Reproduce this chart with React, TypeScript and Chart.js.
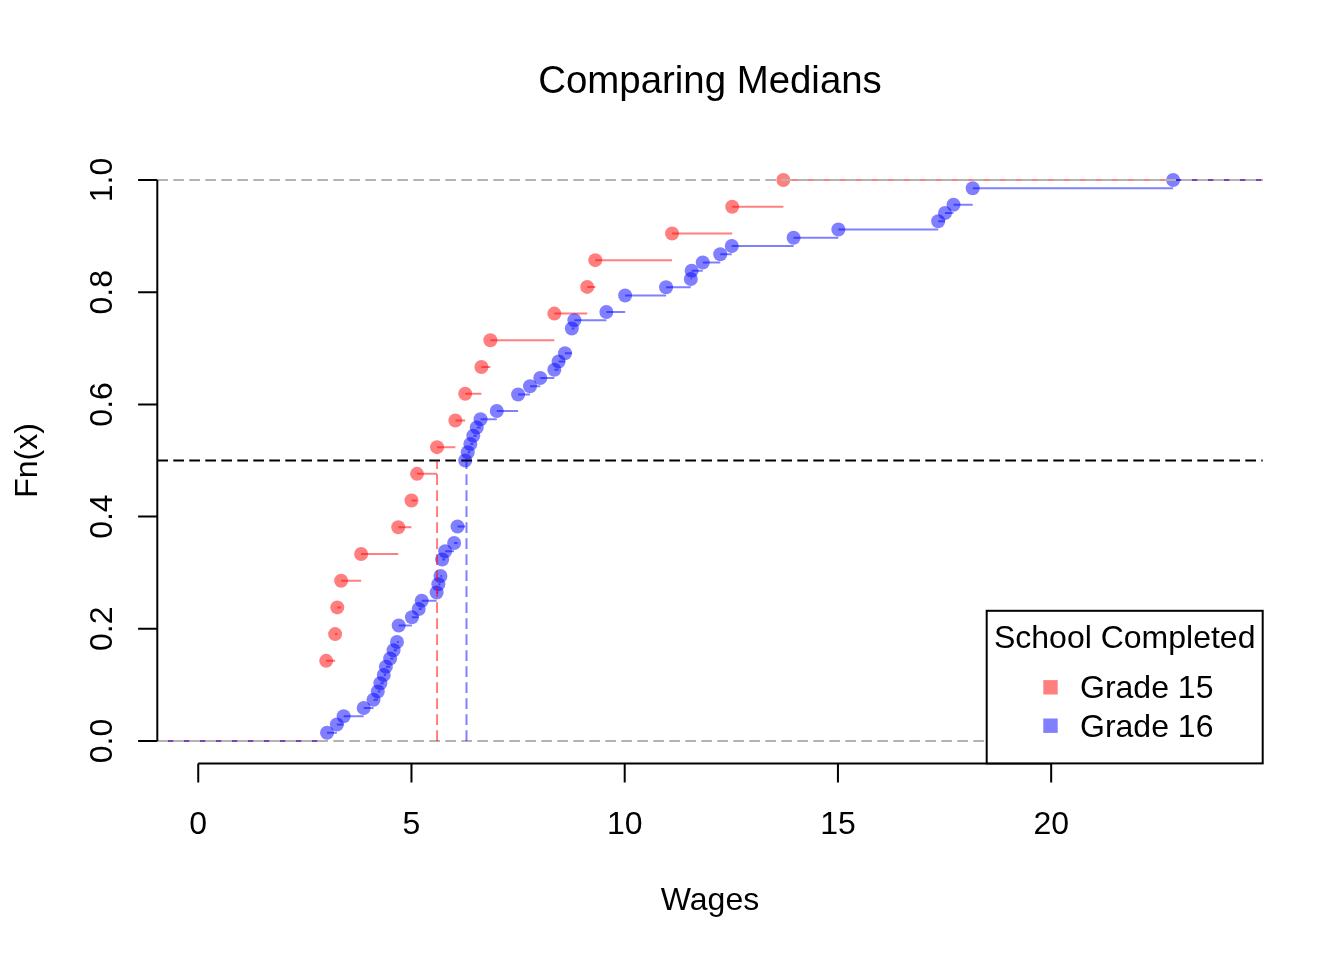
import React, { useEffect, useRef } from "react";
import { Chart, registerables } from "chart.js";

Chart.register(...registerables);

// ---- Text ----
const chartTitle = "Comparing Medians";
const xAxisTitle = "Wages";
const yAxisTitle = "Fn(x)";
const legendTitle = "School Completed";
const seriesNames = ["Grade 15", "Grade 16"];

// ---- Data (hourly wages, ties repeated) ----
const grade15Wages = [
  3.0, 3.0, 3.0, 3.21, 3.26, 3.35, 3.82, 4.69, 5.0, 5.13, 5.6, 6.03, 6.26, 6.64,
  6.85, 8.35, 9.12, 9.31, 11.11, 12.52, 13.72,
];
const grade16Wages = [
  3.02, 3.25, 3.41, 3.88, 4.11, 4.21, 4.27, 4.35, 4.4, 4.5, 4.58, 4.66, 4.7, 4.7,
  5.01, 5.17, 5.24, 5.59, 5.63, 5.68, 5.72, 5.72, 5.79, 6.0, 6.08, 6.08,
  6.26, 6.26, 6.26, 6.26, 6.26, 6.26, 6.26, 6.26, 6.32, 6.38, 6.45, 6.53, 6.62,
  7.0, 7.5, 7.5, 7.78, 8.02, 8.35, 8.45, 8.6, 8.76, 8.76, 8.76, 8.82, 9.57,
  10.01, 10.01, 10.97, 11.55, 11.57, 11.83, 12.24, 12.51, 13.96, 15.01, 17.35,
  17.51, 17.71, 18.16, 18.16, 22.86,
];

// ---- Axes ----
const xLimits = [0, 24];
const yLimits = [0, 1];
const xTicks = [0, 5, 10, 15, 20];
const xTickLabels = ["0", "5", "10", "15", "20"];
const yTicks = [0, 0.2, 0.4, 0.6, 0.8, 1.0];
const yTickLabels = ["0.0", "0.2", "0.4", "0.6", "0.8", "1.0"];
const medianLevel = 0.5;

// ---- Colours ----
const redCol = "rgba(255,0,0,0.5)";
const blueCol = "rgba(0,0,255,0.5)";
const seriesColors = [redCol, blueCol];

const FONT = "'Liberation Sans', Arial, Helvetica, sans-serif";

const ext = (lim: number[]) => {
  const d = (lim[1] - lim[0]) * 0.04;
  return [lim[0] - d, lim[1] + d];
};
const xRange = ext(xLimits);
const yRange = ext(yLimits);

const ecdfKnots = (vals: number[]) => {
  const s = [...vals].sort((a, b) => a - b);
  const n = s.length;
  const out: { x: number; y: number }[] = [];
  s.forEach((v, i) => {
    if (i === n - 1 || s[i + 1] !== v) out.push({ x: v, y: (i + 1) / n });
  });
  return out;
};

const stepSegments = (knots: { x: number; y: number }[], xmin: number, xmax: number) => {
  const pts: { x: number; y: number | null }[] = [];
  let px = xmin;
  let py = 0;
  for (const k of knots) {
    pts.push({ x: px, y: py }, { x: k.x, y: py }, { x: k.x, y: null });
    px = k.x;
    py = k.y;
  }
  pts.push({ x: px, y: py }, { x: xmax, y: py });
  return pts;
};

const median = (vals: number[]) => {
  const s = [...vals].sort((a, b) => a - b);
  const n = s.length;
  return n % 2 ? s[(n - 1) / 2] : (s[n / 2 - 1] + s[n / 2]) / 2;
};

const seriesData = [grade15Wages, grade16Wages];

const overlayPlugin = {
  id: "rOverlay",
  afterDraw(chart: any) {
    const { ctx, chartArea: ca } = chart;
    const xs = chart.scales.x;
    const ys = chart.scales.y;
    const X = (v: number) => xs.getPixelForValue(v);
    const Y = (v: number) => ys.getPixelForValue(v);
    const dash = [10.7, 5.3];
    ctx.save();
    ctx.lineCap = "butt";

    // gray 0/1 lines
    ctx.strokeStyle = "#b3b3b3";
    ctx.lineWidth = 2;
    ctx.setLineDash(dash);
    for (const v of yLimits) {
      ctx.beginPath();
      ctx.moveTo(ca.left, Y(v));
      ctx.lineTo(ca.right, Y(v));
      ctx.stroke();
    }
    // median level
    ctx.strokeStyle = "#000";
    ctx.beginPath();
    ctx.moveTo(ca.left, Y(medianLevel));
    ctx.lineTo(ca.right, Y(medianLevel));
    ctx.stroke();
    // median verticals
    seriesData.forEach((vals, i) => {
      const m = median(vals);
      ctx.strokeStyle = seriesColors[i];
      ctx.beginPath();
      ctx.moveTo(X(m), Y(0));
      ctx.lineTo(X(m), Y(medianLevel));
      ctx.stroke();
    });
    ctx.setLineDash([]);

    // axes
    const tick = 19.2;
    ctx.strokeStyle = "#000";
    ctx.lineWidth = 2;
    ctx.beginPath();
    ctx.moveTo(ca.left, Y(yTicks[0]));
    ctx.lineTo(ca.left, Y(yTicks[yTicks.length - 1]));
    for (const t of yTicks) {
      ctx.moveTo(ca.left, Y(t));
      ctx.lineTo(ca.left - tick, Y(t));
    }
    ctx.moveTo(X(xTicks[0]), ca.bottom);
    ctx.lineTo(X(xTicks[xTicks.length - 1]), ca.bottom);
    for (const t of xTicks) {
      ctx.moveTo(X(t), ca.bottom);
      ctx.lineTo(X(t), ca.bottom + tick);
    }
    ctx.stroke();

    ctx.fillStyle = "#000";
    ctx.font = `32px ${FONT}`;
    ctx.textBaseline = "alphabetic";
    ctx.textAlign = "center";
    xTicks.forEach((t, i) => ctx.fillText(xTickLabels[i], X(t), ca.bottom + 70.6));
    yTicks.forEach((t, i) => {
      ctx.save();
      ctx.translate(ca.left - 45.3, Y(t));
      ctx.rotate(-Math.PI / 2);
      ctx.fillText(yTickLabels[i], 0, 0);
      ctx.restore();
    });
    // axis titles
    const cx = (ca.left + ca.right) / 2;
    const cy = (ca.top + ca.bottom) / 2;
    ctx.fillText(xAxisTitle, cx, ca.bottom + 146.6);
    ctx.save();
    ctx.translate(ca.left - 120.3, cy);
    ctx.rotate(-Math.PI / 2);
    ctx.fillText(yAxisTitle, 0, 0);
    ctx.restore();
    // main title
    ctx.font = `38.4px ${FONT}`;
    ctx.fillText(chartTitle, cx, 92.5);

    // legend
    const lw = 276;
    const lh = 152.6;
    const lx = ca.right - lw;
    const ly = ca.bottom - lh;
    ctx.fillStyle = "#fff";
    ctx.fillRect(lx, ly, lw, lh);
    ctx.strokeStyle = "#000";
    ctx.lineWidth = 2;
    ctx.strokeRect(lx, ly, lw, lh);
    ctx.fillStyle = "#000";
    ctx.font = `32px ${FONT}`;
    ctx.textAlign = "center";
    ctx.fillText(legendTitle, lx + lw / 2, ly + 37.6);
    ctx.textAlign = "left";
    seriesNames.forEach((name, i) => {
      const baseY = ly + 87.5 + i * 38.4;
      ctx.fillStyle = seriesColors[i];
      ctx.fillRect(lx + 56.6, baseY - 18.2, 14.4, 14.4);
      ctx.fillStyle = "#000";
      ctx.fillText(name, lx + 93.3, baseY);
    });
    ctx.restore();
  },
};

export default function App() {
  const ref = useRef<HTMLCanvasElement>(null);
  useEffect(() => {
    if (!ref.current) return;
    const knots = seriesData.map((v) => ecdfKnots(v));
    const datasets: any[] = [];
    knots.forEach((k, i) => {
      datasets.push({
        label: seriesNames[i] + " steps",
        data: stepSegments(k, xRange[0], xRange[1]),
        showLine: true,
        spanGaps: false,
        borderColor: seriesColors[i],
        borderWidth: 2,
        pointRadius: 0,
        pointHoverRadius: 0,
        order: 10 - i * 2,
      });
      datasets.push({
        label: seriesNames[i],
        data: k,
        showLine: false,
        pointRadius: 7,
        pointHoverRadius: 7,
        pointBackgroundColor: seriesColors[i],
        pointBorderWidth: 0,
        borderWidth: 0,
        order: 9 - i * 2,
      });
    });
    const chart = new Chart(ref.current, {
      type: "scatter",
      data: { datasets },
      options: {
        animation: false,
        responsive: false,
        devicePixelRatio: 1,
        events: [],
        layout: { padding: { left: 157.3, right: 81.3, top: 157.6, bottom: 196.6 } },
        plugins: {
          legend: { display: false },
          title: { display: false },
          tooltip: { enabled: false },
        },
        scales: {
          x: { type: "linear", min: xRange[0], max: xRange[1], display: false },
          y: { type: "linear", min: yRange[0], max: yRange[1], display: false },
        },
      },
      plugins: [overlayPlugin],
    } as any);
    return () => chart.destroy();
  }, []);
  return (
    <div style={{ position: "absolute", left: 0, top: 0, width: 1344, height: 960, background: "#fff" }}>
      <canvas ref={ref} width={1344} height={960} style={{ display: "block" }} />
    </div>
  );
}
